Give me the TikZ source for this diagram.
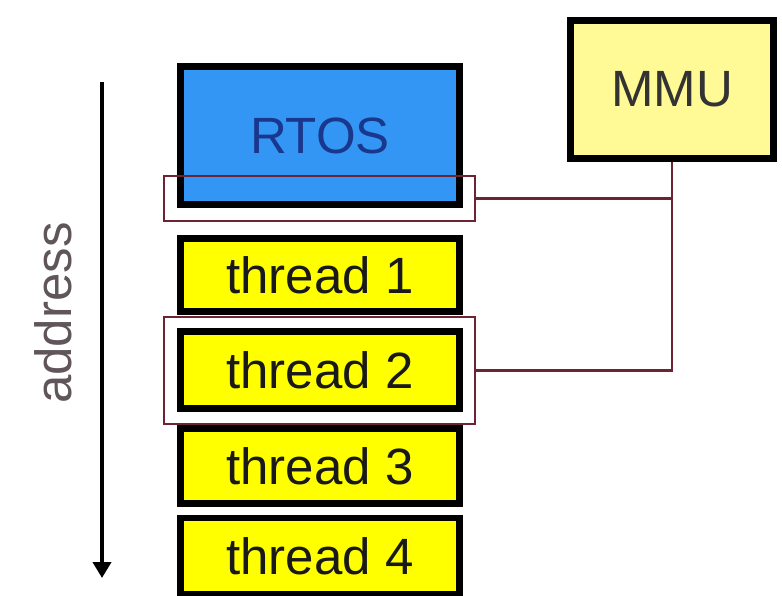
\documentclass[tikz,border=0pt]{standalone}
\usepackage{fontspec}
\setmainfont{Liberation Sans}
\usetikzlibrary{arrows.meta}
\definecolor{rtosblue}{RGB}{51,150,245}
\definecolor{rtostext}{RGB}{25,55,140}
\definecolor{thyellow}{RGB}{255,255,0}
\definecolor{mmuyellow}{RGB}{255,250,150}
\definecolor{maroon}{RGB}{110,35,50}
\definecolor{addrgray}{RGB}{95,85,90}
\tikzset{
  memblock/.style={draw=black, line width=6.5pt, inner sep=0pt,
    font=\fontsize{51}{51}\selectfont},
  hilite/.style={draw=maroon, line width=2.2pt},
  link/.style={draw=maroon, line width=2.2pt},
}
\begin{document}
\begin{tikzpicture}[x=1pt,y=-1pt]
\useasboundingbox (0,0) rectangle (782,595);
\fill[white] (0,0) rectangle (782,595);
% memory blocks
\node[memblock, fill=rtosblue, text=rtostext, minimum width=279pt, minimum height=138pt] (rtos) at (320,135.5) {RTOS};
\node[memblock, fill=thyellow, text=black!90, minimum width=279pt, minimum height=73pt] (t1) at (320,275) {thread 1};
\node[memblock, fill=thyellow, text=black!90, minimum width=279pt, minimum height=77pt] (t2) at (320,370) {thread 2};
\node[memblock, fill=thyellow, text=black!90, minimum width=279pt, minimum height=75pt] (t3) at (320,466) {thread 3};
\node[memblock, fill=thyellow, text=black!90, minimum width=279pt, minimum height=76pt] (t4) at (320,556) {thread 4};
% MMU
\node[memblock, fill=mmuyellow, text=black!80, minimum width=203pt, minimum height=138pt] (mmu) at (672,89.5) {MMU};
% highlight rectangles
\node[hilite, minimum width=311pt, minimum height=45pt, inner sep=0pt] (h1) at (319.5,198.5) {};
\node[hilite, minimum width=311pt, minimum height=107pt, inner sep=0pt] (h2) at (319.5,370.5) {};
% connectors
\coordinate (j1) at (mmu.south |- h1.east);
\coordinate (j2) at (mmu.south |- h2.east);
\draw[link] (mmu.south) -- (j2) -- (h2.east);
\draw[link] (h1.east) -- (j1);
% address arrow
\coordinate (atop) at (102,82);
\coordinate (abot) at (102,578);
\draw[line width=4pt, -{Triangle[length=16pt,width=18pt]}] (atop) -- (abot);
\node[rotate=90, text=addrgray, font=\fontsize{51}{51}\selectfont] (addr) at (53,313) {address};
\end{tikzpicture}
\end{document}
